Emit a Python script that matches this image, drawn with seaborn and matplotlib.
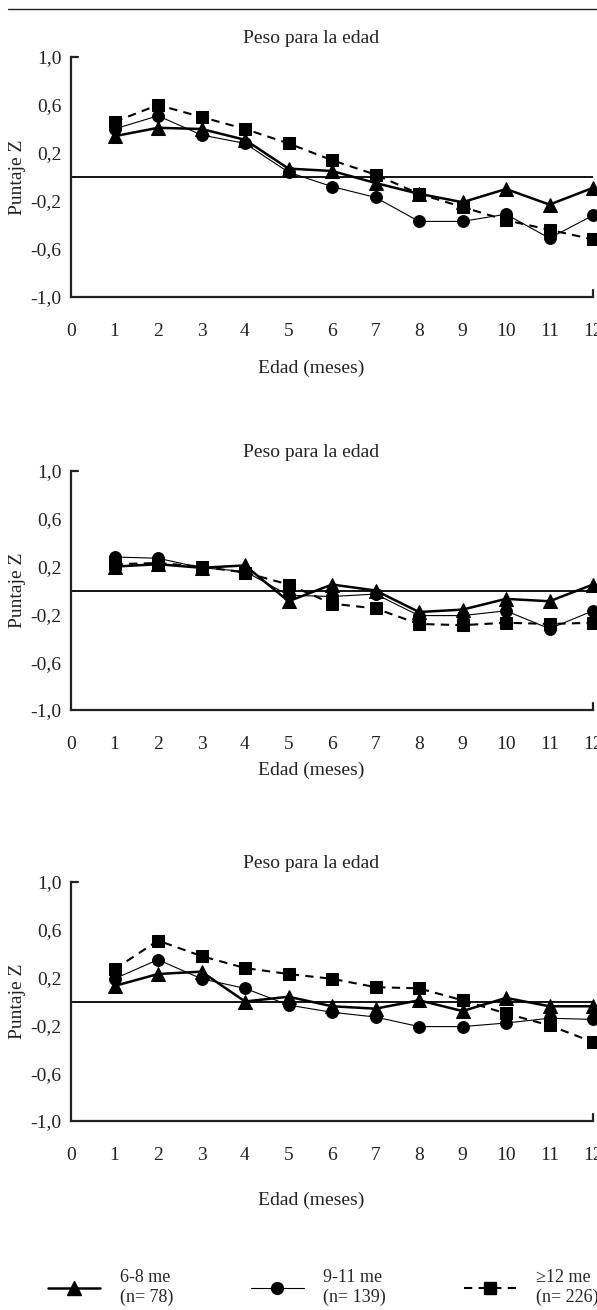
import numpy as np
import pandas as pd
import matplotlib
matplotlib.use("Agg")
import matplotlib.pyplot as plt
from matplotlib.lines import Line2D
import seaborn as sns

# ==================================
# DATA
# ==================================
meses = list(range(1, 13))
x_ticks = list(range(0, 13))
y_ticks = [1.0, 0.6, 0.2, -0.2, -0.6, -1.0]
y_tick_labels = ["1,0", "0,6", "0,2", "-0,2", "-0,6", "-1,0"]

grupos = ["6-8 me\n(n= 78)", "9-11 me\n(n= 139)", "\u226512 me\n(n= 226)"]
titulo = "Peso para la edad"

# panel 1
p1_6_8 = [0.34, 0.41, 0.40, 0.31, 0.07, 0.05, -0.05, -0.14, -0.21, -0.10, -0.23, -0.09]
p1_9_11 = [0.40, 0.51, 0.35, 0.28, 0.04, -0.08, -0.17, -0.37, -0.37, -0.31, -0.51, -0.32]
p1_12 = [0.46, 0.60, 0.50, 0.40, 0.28, 0.14, 0.02, -0.14, -0.25, -0.36, -0.44, -0.52]

# panel 2
p2_6_8 = [0.20, 0.22, 0.19, 0.21, -0.09, 0.05, 0.00, -0.18, -0.16, -0.07, -0.09, 0.05]
p2_9_11 = [0.28, 0.27, 0.19, 0.16, -0.04, -0.05, -0.03, -0.21, -0.21, -0.17, -0.32, -0.17]
p2_12 = [0.22, 0.23, 0.20, 0.15, 0.05, -0.11, -0.15, -0.28, -0.29, -0.27, -0.28, -0.27]

# panel 3
p3_6_8 = [0.13, 0.23, 0.25, 0.00, 0.04, -0.04, -0.06, 0.01, -0.08, 0.03, -0.04, -0.04]
p3_9_11 = [0.19, 0.35, 0.19, 0.11, -0.03, -0.09, -0.13, -0.21, -0.21, -0.18, -0.14, -0.15]
p3_12 = [0.27, 0.51, 0.38, 0.28, 0.23, 0.19, 0.12, 0.11, 0.01, -0.10, -0.20, -0.34]

paneles = [
    [p1_6_8, p1_9_11, p1_12],
    [p2_6_8, p2_9_11, p2_12],
    [p3_6_8, p3_9_11, p3_12],
]

rows = []
for k, series in enumerate(paneles):
    for g, vals in zip(grupos, series):
        for m, v in zip(meses, vals):
            rows.append({"panel": k, "grupo": g, "mes": m, "z": v})
df = pd.DataFrame(rows)

# ==================================
# STYLE
# ==================================
sns.set_theme(style="white")
plt.rcParams["font.family"] = ["Liberation Serif", "DejaVu Serif"]
plt.rcParams["font.size"] = 14
ink = "#222222"

estilos = {
    grupos[0]: dict(marker="^", markersize=9.5, linewidth=1.8, linestyle="-"),
    grupos[1]: dict(marker="o", markersize=8.5, linewidth=0.8, linestyle="-"),
    grupos[2]: dict(marker="s", markersize=9, linewidth=1.5, linestyle=(0, (4, 3))),
}

fig = plt.figure(figsize=(5.97, 13.10), dpi=100)

W, H = 597, 1310
left, right = 71 / W, 593 / W
tops = [57, 471, 882]
bottoms = [297, 710, 1121]
labelpads = [14, 6, 20]
text_x = 0.46  # title / xlabel sit a bit left of the axes centre

for k in range(3):
    ax = fig.add_axes([left, 1 - bottoms[k] / H, right - left,
                       (bottoms[k] - tops[k]) / H])
    ax.axhline(0, color="black", linewidth=1.3, zorder=1)
    sub = df[df["panel"] == k]
    for g in grupos:
        d = sub[sub["grupo"] == g]
        sns.lineplot(data=d, x="mes", y="z", ax=ax, color="black",
                     errorbar=None, clip_on=False, zorder=3,
                     markeredgecolor="black", **estilos[g])

    ax.set_xlim(0, 12)
    ax.set_ylim(-1, 1)
    ax.set_xticks(x_ticks)
    ax.set_yticks(y_ticks)
    ax.set_yticklabels(y_tick_labels)
    ax.tick_params(axis="both", length=0, labelsize=14, colors=ink)
    ax.tick_params(axis="x", pad=19)
    ax.tick_params(axis="y", pad=7)

    for side in ["top", "right"]:
        ax.spines[side].set_visible(False)
    for side in ["left", "bottom"]:
        ax.spines[side].set_color(ink)
        ax.spines[side].set_linewidth(1.6)

    # short end ticks like the original chart
    ax.axhline(1, xmin=0, xmax=0.013, color=ink, linewidth=1.6, clip_on=False)
    ax.axvline(12, ymin=0, ymax=0.03, color=ink, linewidth=1.6, clip_on=False)

    ax.set_title(titulo, fontsize=14, pad=10, color=ink)
    ax.title.set_x(text_x)
    ax.set_xlabel("Edad (meses)", fontsize=14, labelpad=labelpads[k], color=ink, x=text_x)
    ax.set_ylabel("Puntaje Z", fontsize=14, labelpad=3, color=ink)

# top rule of the page
fig.add_artist(Line2D([0.013, 1.0], [1 - 9 / H, 1 - 9 / H], color=ink, linewidth=1.0))

# ==================================
# LEGEND
# ==================================
handles = [Line2D([], [], color="black", **estilos[g]) for g in grupos]
fig.legend(handles, grupos, loc="lower left", bbox_to_anchor=(48 / W, 4 / H),
           ncol=3, frameon=False, fontsize=13, handlelength=2.9,
           columnspacing=4.3, handletextpad=1.1, borderpad=0,
           borderaxespad=0, labelspacing=0.2)

fig.savefig("out.png", dpi=100)
